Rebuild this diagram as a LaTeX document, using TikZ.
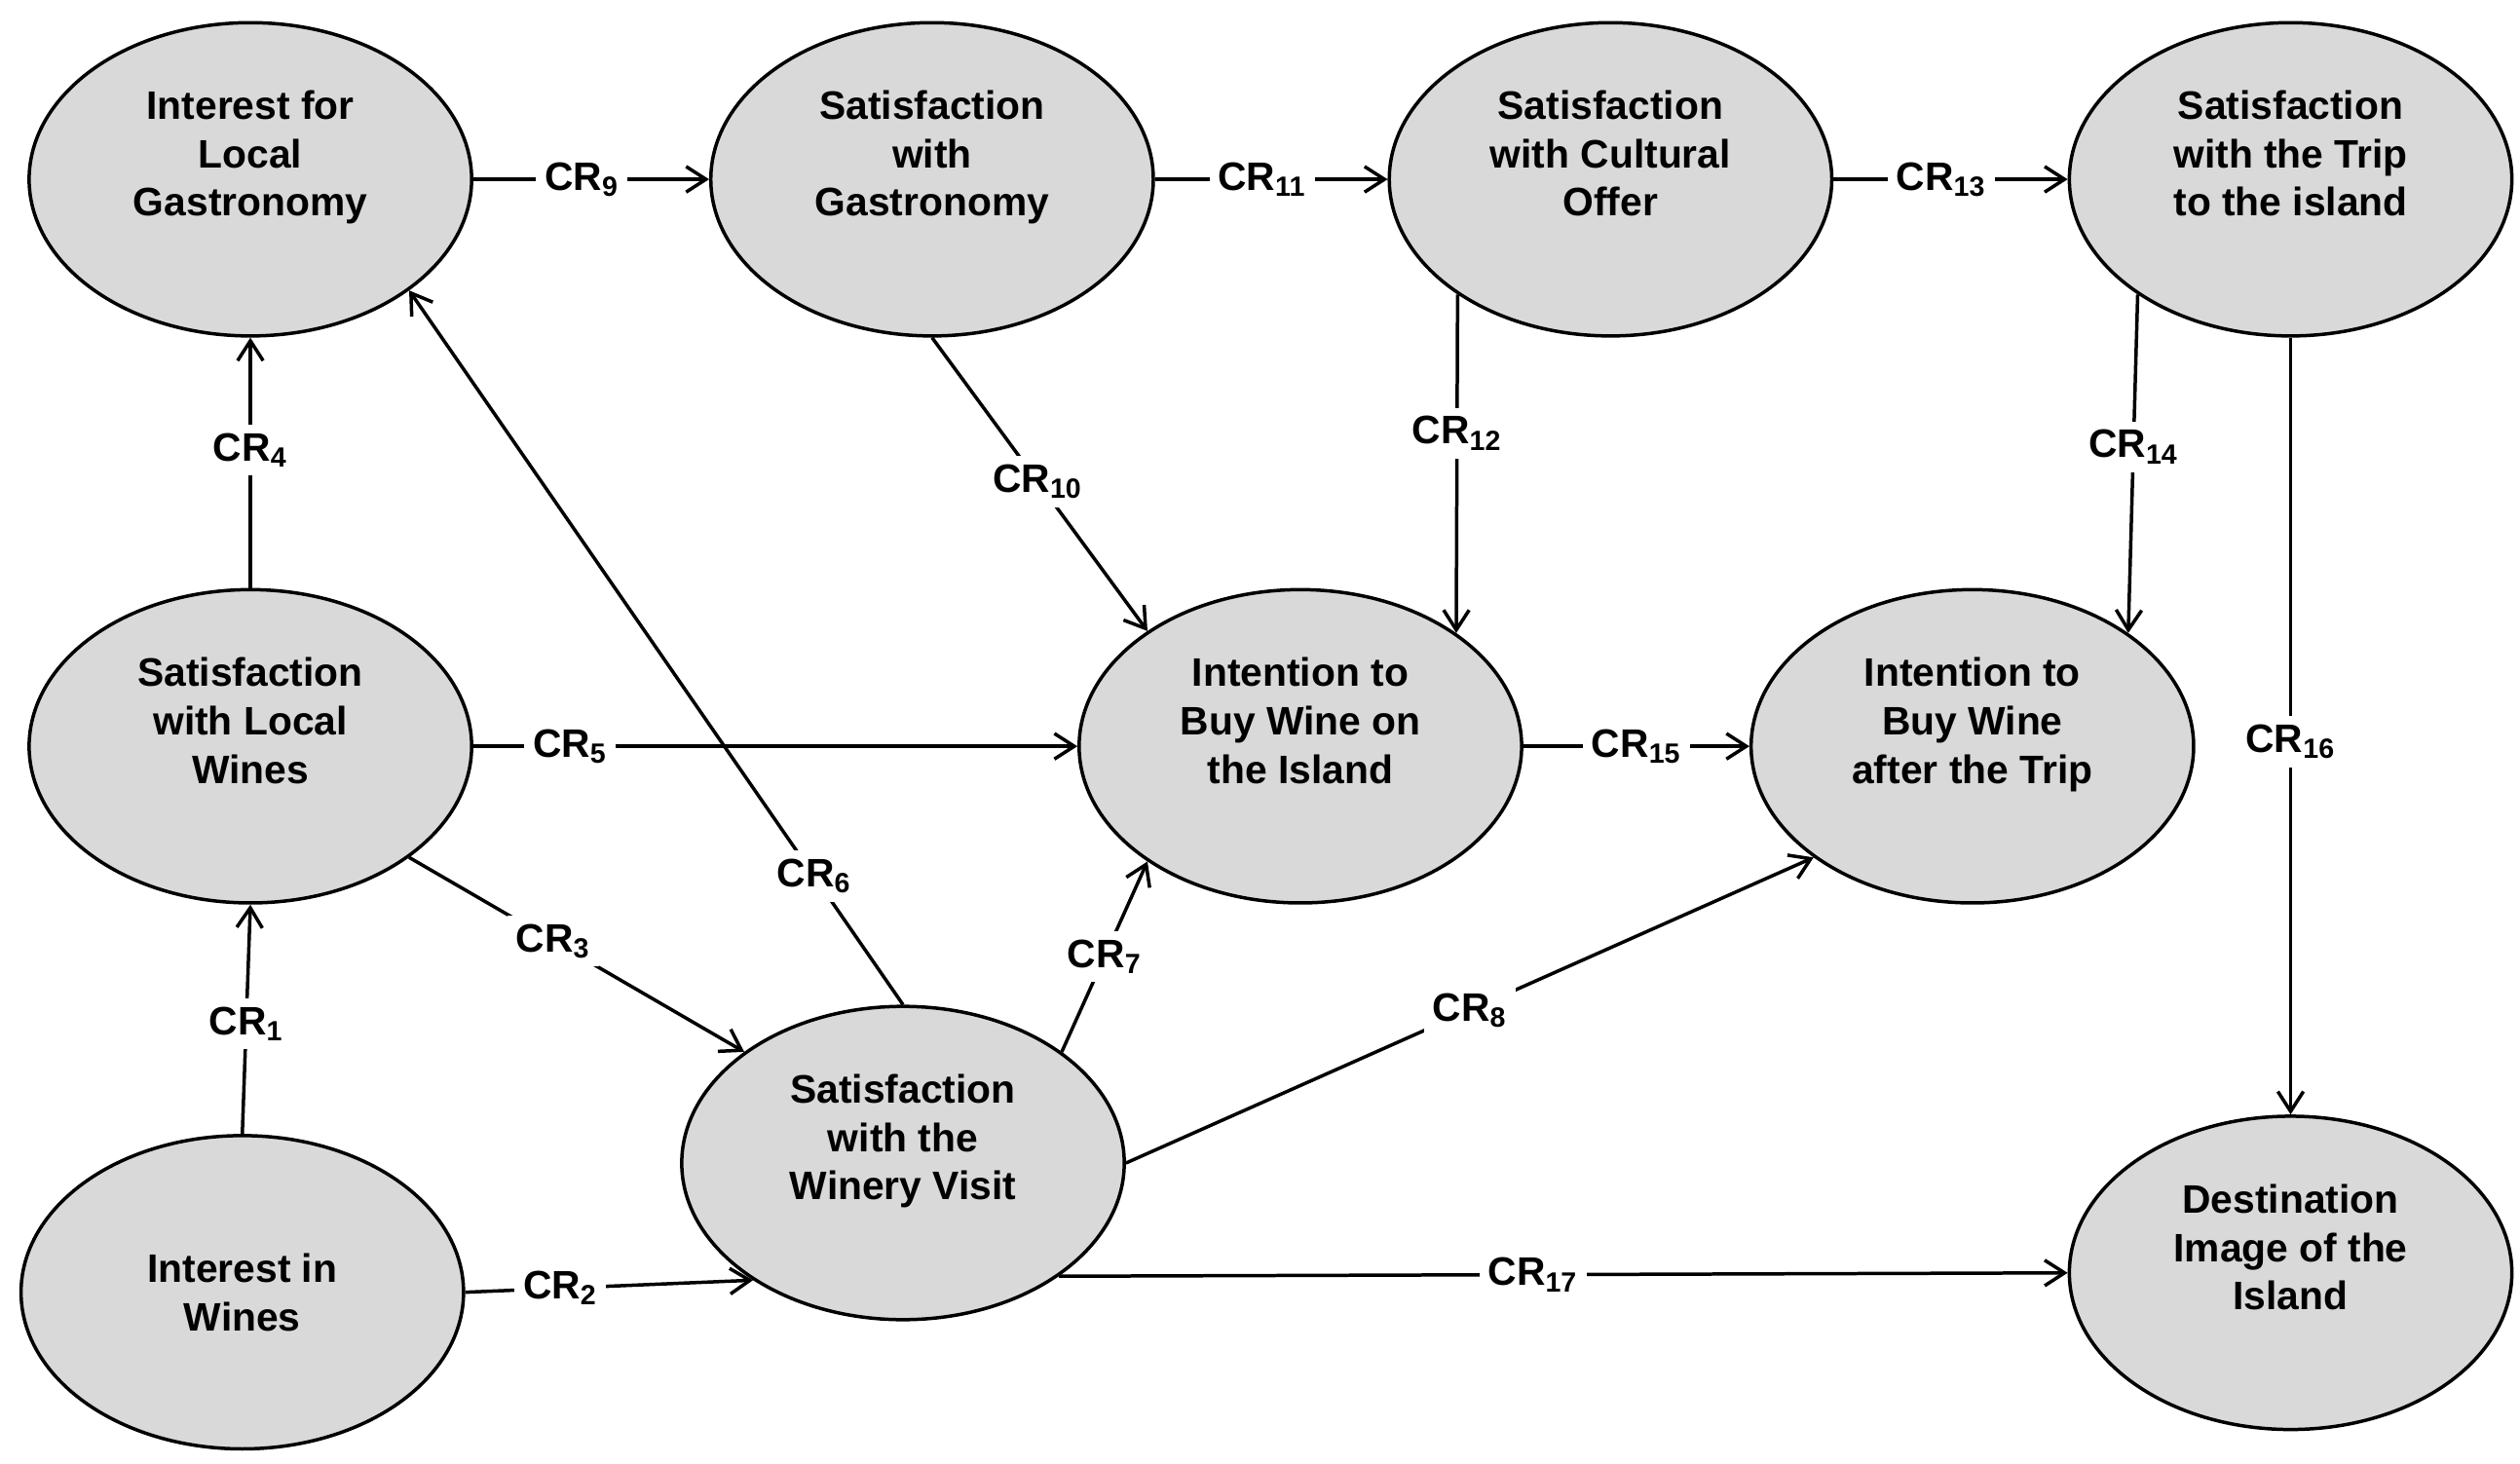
\documentclass[tikz,border=0pt]{standalone}
\usepackage{fontspec}
\setmainfont{Liberation Sans}
\usetikzlibrary{shapes.geometric,arrows.meta}
\begin{document}
\begin{tikzpicture}[x=0.02cm,y=-0.02cm,
  var/.style={ellipse,draw,line width=1.2pt,fill=gray!30,minimum width=5.48cm,minimum height=3.88cm,
    inner sep=0pt,align=center,font=\fontsize{14}{17}\selectfont\bfseries},
  arr/.style={line width=1.2pt,-{Straight Barb[length=7pt,width=9pt]}},
  lbl/.style={fill=white,inner sep=3pt,font=\fontsize{14}{16}\selectfont\bfseries},
]
\newcommand\upt[1]{\begin{tabular}[b]{@{}c@{}}#1\end{tabular}\rule[-0.7cm]{0pt}{0pt}}
\useasboundingbox (0,0) rectangle (1560,906);
\node[var] (A) at (155,111) {\upt{Interest for\\Local\\Gastronomy}};
\node[var] (B) at (577,111) {\upt{Satisfaction\\with\\Gastronomy}};
\node[var] (C) at (997,111) {\upt{Satisfaction\\with Cultural\\Offer}};
\node[var] (D) at (1418,111) {\upt{Satisfaction\\with the Trip\\to the island}};
\node[var] (E) at (155,462) {\upt{Satisfaction\\with Local\\Wines}};
\node[var] (F) at (805,462) {\upt{Intention to\\Buy Wine on\\the Island}};
\node[var] (G) at (1221,462) {\upt{Intention to\\Buy Wine\\after the Trip}};
\node[var] (H) at (150,800) {Interest in\\Wines};
\node[var] (I) at (559,720) {\upt{Satisfaction\\with the\\Winery Visit}};
\node[var] (J) at (1418,788) {\upt{Destination\\Image of the\\Island}};

\draw[arr] (A.east) -- node[lbl,pos=0.46] {CR\textsubscript{9}} (B.west);
\draw[arr] (B.east) -- node[lbl,pos=0.46] {CR\textsubscript{11}} (C.west);
\draw[arr] (C.east) -- node[lbl,pos=0.46] {CR\textsubscript{13}} (D.west);
\draw[arr] (E.north) -- node[lbl,pos=0.55] {CR\textsubscript{4}} (A.south);
\draw[arr] (H.north) -- node[lbl,pos=0.48] {CR\textsubscript{1}} (E.south);
\draw[arr] (H.east) -- node[lbl,pos=0.33] {CR\textsubscript{2}} (I.218);
\draw[arr] (E.-35) -- node[lbl,pos=0.43] {CR\textsubscript{3}} (I.145);
\draw[arr] (E.east) -- node[lbl,pos=0.16] {CR\textsubscript{5}} (F.west);
\draw[arr] (I.north) -- node[lbl,pos=0.18] {CR\textsubscript{6}} (A.-35);
\draw[arr] (I.35) -- node[lbl,pos=0.5] {CR\textsubscript{7}} (F.217);
\draw[arr] (I.east) -- node[lbl,pos=0.5] {CR\textsubscript{8}} (G.215);
\draw[arr] (B.south) -- node[lbl,pos=0.49] {CR\textsubscript{10}} (F.143);
\draw[arr] (C.217) -- node[lbl,pos=0.41] {CR\textsubscript{12}} (F.36);
\draw[arr] (D.217) -- node[lbl,pos=0.45] {CR\textsubscript{14}} (G.36);
\draw[arr] (F.east) -- node[lbl,pos=0.5] {CR\textsubscript{15}} (G.west);
\draw[arr] (D.south) -- node[lbl,pos=0.52] {CR\textsubscript{16}} (J.north);
\draw[arr] (I.-36) -- node[lbl,pos=0.47] {CR\textsubscript{17}} (J.west);
\end{tikzpicture}
\end{document}
